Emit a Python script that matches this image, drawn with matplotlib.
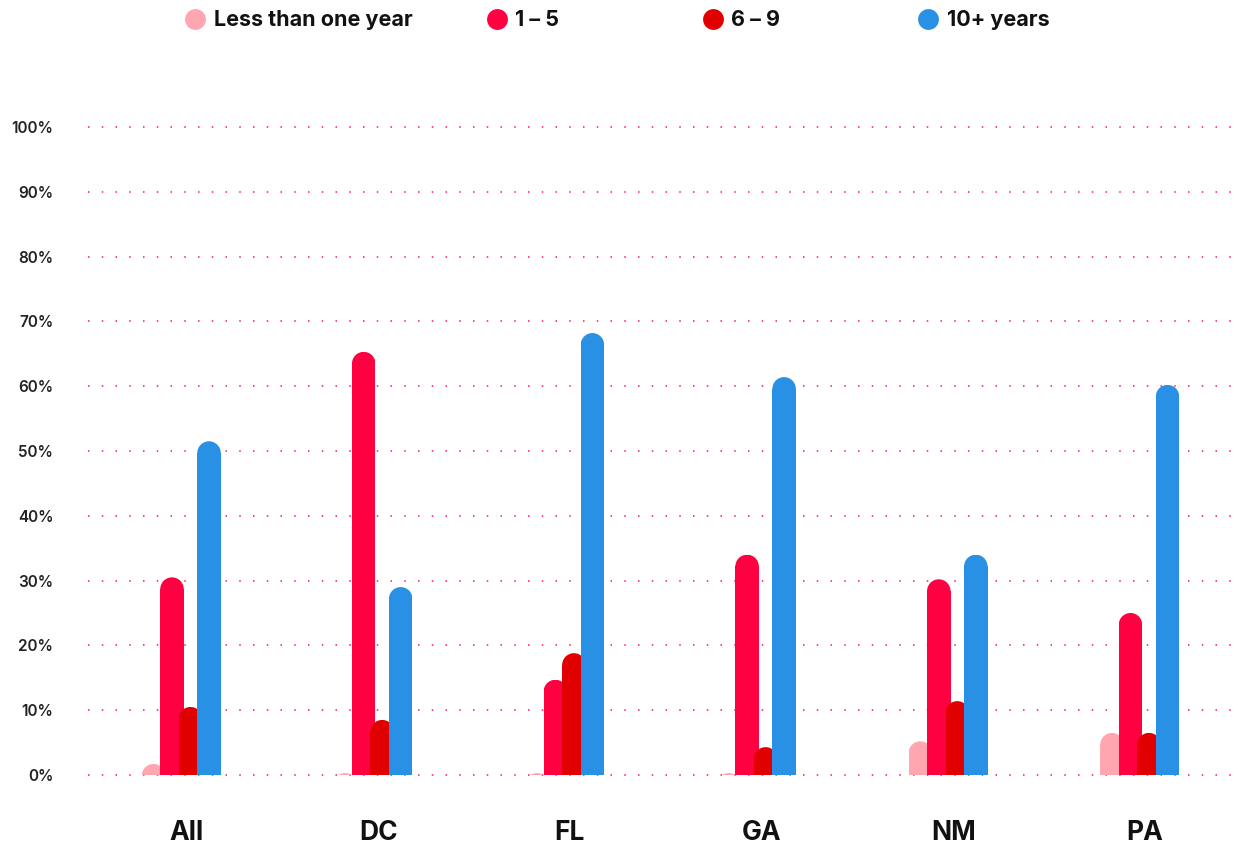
import matplotlib
matplotlib.use("Agg")
import matplotlib.pyplot as plt
from matplotlib.patches import Ellipse, Rectangle
from matplotlib.lines import Line2D

plt.rcParams['font.family'] = ['Inter', 'DejaVu Sans']
plt.rcParams['lines.scale_dashes'] = False

categories = ["All", "DC", "FL", "GA", "NM", "PA"]
series_names = ["Less than one year", "1 – 5", "6 – 9", "10+ years"]
less_than_one = [1.7, 0.3, 0.3, 0.3, 5.2, 6.5]
one_to_five = [30.5, 65.3, 14.7, 34.0, 30.2, 25.0]
six_to_nine = [10.5, 8.5, 18.8, 4.3, 11.4, 6.5]
ten_plus = [51.5, 29.0, 68.2, 61.4, 34.0, 60.2]
y_ticks = [0, 10, 20, 30, 40, 50, 60, 70, 80, 90, 100]
y_tick_labels = [f"{t}%" for t in y_ticks]

colors = ["#ffa6b0", "#ff0040", "#e00000", "#2891e6"]
series = [less_than_one, one_to_five, six_to_nine, ten_plus]

W, H = 1235, 848
fig = plt.figure(figsize=(W / 100, H / 100), dpi=100)

# layout in pixels
px_per_pct = 6.48
y0_px = 775
ymin, ymax = -2, 102
ax_bottom_px = y0_px + (0 - ymin) * px_per_pct
ax_top_px = y0_px - (ymax) * px_per_pct
ax_left_px, ax_right_px = 88, 1235
group_px = 191.7
first_center_px = 186.5
xmin = -(first_center_px - ax_left_px) / group_px
xmax = (ax_right_px - first_center_px) / group_px

ax = fig.add_axes([ax_left_px / W, 1 - ax_bottom_px / H,
                   (ax_right_px - ax_left_px) / W, (ax_bottom_px - ax_top_px) / H])
ax.set_xlim(xmin, xmax)
ax.set_ylim(ymin, ymax)

for s in ax.spines.values():
    s.set_visible(False)

# dotted gridlines
for t in y_ticks:
    ax.axhline(t, color="#ff2a5f", lw=1.2, linestyle=(0, (1.1, 8.8)), alpha=1.0, zorder=0)

bar_w = 23.5 / group_px
offsets = [o / group_px for o in (-33.0, -14.5, 4.0, 22.5)]
r_y = (23.5 / 2) / px_per_pct

for si, (vals, col, off) in enumerate(zip(series, colors, offsets)):
    for gi, v in enumerate(vals):
        xc = gi + off
        z = 2 + si
        clip = Rectangle((xc - bar_w / 2, 0), bar_w, v, transform=ax.transData)
        body_h = max(v - r_y, 0)
        if body_h > 0:
            ax.bar(xc, body_h, width=bar_w, color=col, zorder=z, linewidth=0)
        e = Ellipse((xc, v - r_y), bar_w, 2 * r_y, facecolor=col, edgecolor='none', zorder=z)
        ax.add_patch(e)
        e.set_clip_path(clip)

ax.set_yticks(y_ticks)
ax.set_yticklabels(y_tick_labels)
ax.set_xticks(range(len(categories)))
ax.set_xticklabels(categories)
ax.tick_params(axis='y', length=0, pad=25, labelsize=11, labelcolor="#222222")
ax.tick_params(axis='x', length=0, pad=23, labelsize=19, labelcolor="#111111")
for lab in ax.get_yticklabels():
    lab.set_fontweight('semibold')
for lab in ax.get_xticklabels():
    lab.set_fontweight('bold')

# legend
marker_x = [195, 497, 713, 928]
text_x = [214, 515, 731, 947]
ly_marker = 18.5
ly_text = 26.5
for name, col, mx, tx in zip(series_names, colors, marker_x, text_x):
    fig.add_artist(Line2D([mx / W], [1 - ly_marker / H], marker='o', markersize=15,
                          color=col, markeredgewidth=0, transform=fig.transFigure))
    fig.text(tx / W, 1 - ly_text / H, name, fontsize=15.5, fontweight='bold',
             color="#111111", va='baseline', ha='left')

fig.savefig("out.png", dpi=100)
